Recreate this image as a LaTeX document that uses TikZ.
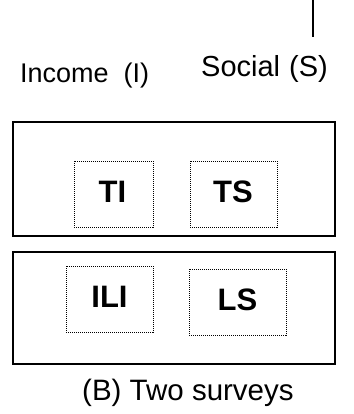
\documentclass[tikz,border=0pt]{standalone}
\usepackage{fontspec}
\setmainfont{Liberation Sans}
\begin{document}
\begin{tikzpicture}[x=1pt,y=-1pt,
  outerbox/.style={draw=black,line width=2pt},
  dotbox/.style={draw=black,line width=1pt,dash pattern=on 1pt off 1pt},
  lbl/.style={inner sep=0pt,anchor=base west},
  blbl/.style={inner sep=0pt,anchor=base,font=\fontsize{31}{34}\selectfont\bfseries}]
\useasboundingbox (0,0) rectangle (353,414);
\coordinate (vt) at (313,0);
\coordinate (vb) at (313,37);
\draw[line width=1.5pt] (vt) -- (vb);
\node[lbl,font=\fontsize{27}{30}\selectfont] (inc) at (20,83) {Income\hspace{15pt}(I)};
\node[lbl,font=\fontsize{29}{32}\selectfont] (soc) at (201,77) {Social\hspace{9pt}(S)};
\node[outerbox,minimum width=322pt,minimum height=114pt,inner sep=0pt] (top) at (174,179) {};
\node[dotbox,minimum width=79pt,minimum height=66pt,inner sep=0pt] (tibox) at (113.5,194) {};
\node[dotbox,minimum width=87pt,minimum height=66pt,inner sep=0pt] (tsbox) at (233.5,194) {};
\node[blbl] at (112.5,202) (ti) {TI};
\node[blbl] at (233,202) (ts) {TS};
\node[outerbox,minimum width=322pt,minimum height=112pt,inner sep=0pt] (bot) at (174,308) {};
\node[dotbox,minimum width=87pt,minimum height=66pt,inner sep=0pt] (ilibox) at (109.5,299) {};
\node[dotbox,minimum width=97pt,minimum height=66pt,inner sep=0pt] (lsbox) at (237.5,302) {};
\node[blbl] at (109.5,307) (ili) {ILI};
\node[blbl] at (237.5,310) (ls) {LS};
\node[lbl,font=\fontsize{29.5}{33}\selectfont] (cap) at (82,400) {(B) Two surveys};
\end{tikzpicture}
\end{document}
